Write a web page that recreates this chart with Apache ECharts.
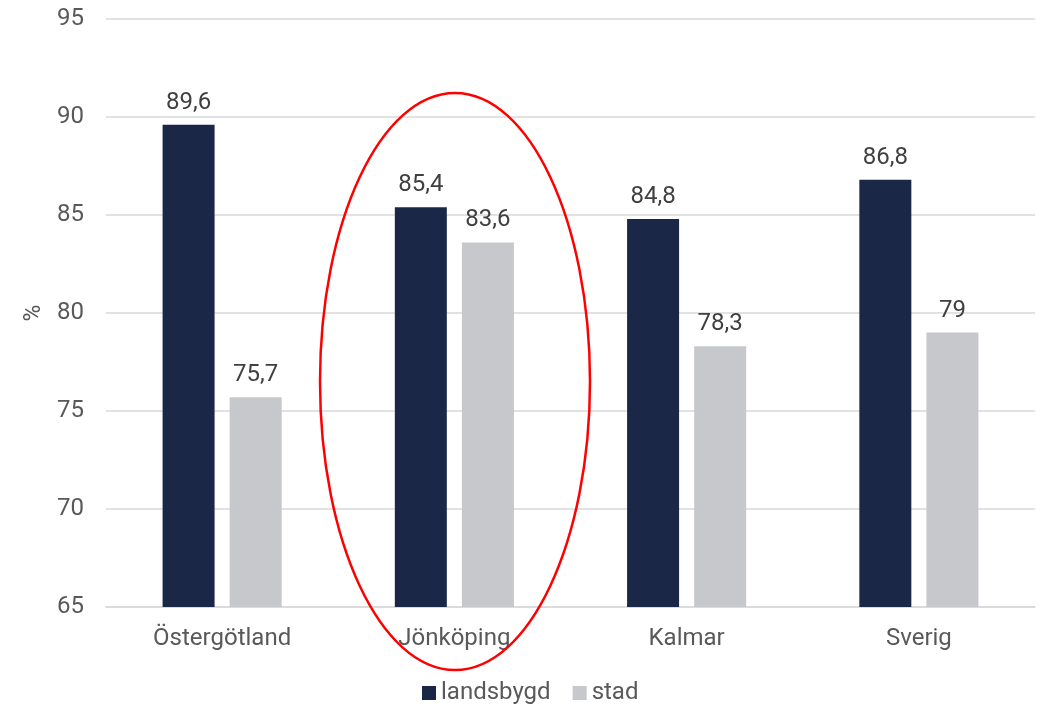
<!DOCTYPE html>
<html>
<head>
<meta charset="utf-8">
<script src="https://cdn.jsdelivr.net/npm/echarts@6/dist/echarts.min.js"></script>
<style>
html,body{margin:0;padding:0;background:#fff;}
#chart{width:1043px;height:704px;}
</style>
</head>
<body>
<div id="chart"></div>
<script>
const categories = ['Östergötland', 'Jönköping', 'Kalmar', 'Sverig'];
const landsbygd = [89.6, 85.4, 84.8, 86.8];
const stad = [75.7, 83.6, 78.3, 79];
const yTicks = { min: 65, max: 95, interval: 5 };

const chart = echarts.init(document.getElementById('chart'));
const fmt = p => String(p.value).replace('.', ',');
const font = 'Roboto, "Noto Sans", sans-serif';
chart.setOption({
  animation: false,
  textStyle: { fontFamily: font },
  grid: { left: 106, right: 8, top: 19, bottom: 97 },
  legend: {
    top: 676, left: 417,
    icon: 'rect', itemWidth: 14, itemHeight: 14, itemGap: 22,
    textStyle: { fontSize: 24, color: '#595959', fontFamily: font },
    data: ['landsbygd', 'stad']
  },
  xAxis: {
    type: 'category', data: categories,
    axisLine: { lineStyle: { color: '#d9d9d9', width: 1.5 } },
    axisTick: { show: false },
    axisLabel: { fontSize: 24, color: '#595959', margin: 20, fontFamily: font }
  },
  yAxis: {
    type: 'value', min: yTicks.min, max: yTicks.max, interval: yTicks.interval,
    name: '%', nameLocation: 'middle', nameRotate: 90, nameGap: 55,
    nameTextStyle: { fontSize: 23, color: '#595959', fontFamily: font },
    axisLine: { show: false }, axisTick: { show: false },
    axisLabel: { fontSize: 24, color: '#595959', margin: 22, fontFamily: font },
    splitLine: { lineStyle: { color: '#d9d9d9', width: 1.5 } }
  },
  series: [
    { name: 'landsbygd', type: 'bar', data: landsbygd, barWidth: 52, barGap: '29%',
      itemStyle: { color: '#1b2747' },
      label: { show: true, position: 'top', distance: 10, formatter: fmt, fontSize: 24, color: '#404040', fontFamily: font } },
    { name: 'stad', type: 'bar', data: stad, barWidth: 52,
      itemStyle: { color: '#c6c8cc' },
      label: { show: true, position: 'top', distance: 10, formatter: fmt, fontSize: 24, color: '#404040', fontFamily: font } }
  ],
  graphic: [{
    type: 'ellipse', z: 100,
    shape: { cx: 455, cy: 381.5, rx: 135, ry: 288.5 },
    style: { fill: 'none', stroke: '#ff0000', lineWidth: 2.5 }
  }]
});
</script>
</body>
</html>
